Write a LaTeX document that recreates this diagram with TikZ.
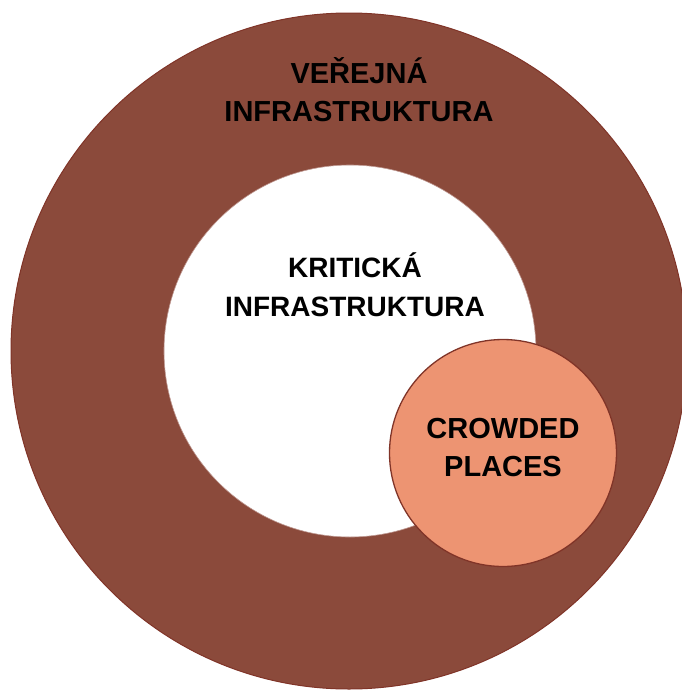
\documentclass[tikz,border=0pt]{standalone}
\usepackage{fontspec}
\setmainfont{Liberation Sans}
\definecolor{ringbrown}{RGB}{139,74,59}
\definecolor{ringedge}{RGB}{128,52,40}
\definecolor{crowdfill}{RGB}{237,148,114}
\begin{document}
\begin{tikzpicture}[x=1pt,y=-1pt,line join=round,
  ringtext/.style={font=\bfseries\fontsize{29}{38}\selectfont,align=center,inner sep=0pt}]
\useasboundingbox (0,0) rectangle (681,691);
% ring
\fill[ringbrown,even odd rule] (349,351) circle[radius=338pt] (350,351) circle[radius=186pt];
\draw[ringedge,line width=1pt] (349,351) circle[radius=338pt];
\draw[ringedge!50,line width=.6pt] (350,351) circle[radius=186pt];
% crowded places
\node[circle,minimum size=227pt,fill=crowdfill,draw=ringedge,line width=1.3pt] (crowded) at (503,453) {};
\node[ringtext] (public) at (359,89.5) {VEŘEJNÁ\\INFRASTRUKTURA};
\node[ringtext,font=\bfseries\fontsize{28}{39}\selectfont] (critical) at (355,284.5) {KRITICKÁ\\INFRASTRUKTURA};
\node[ringtext] (crowdedtext) at (crowded.center) [yshift=5.6pt] {CROWDED\\PLACES};
\end{tikzpicture}
\end{document}
